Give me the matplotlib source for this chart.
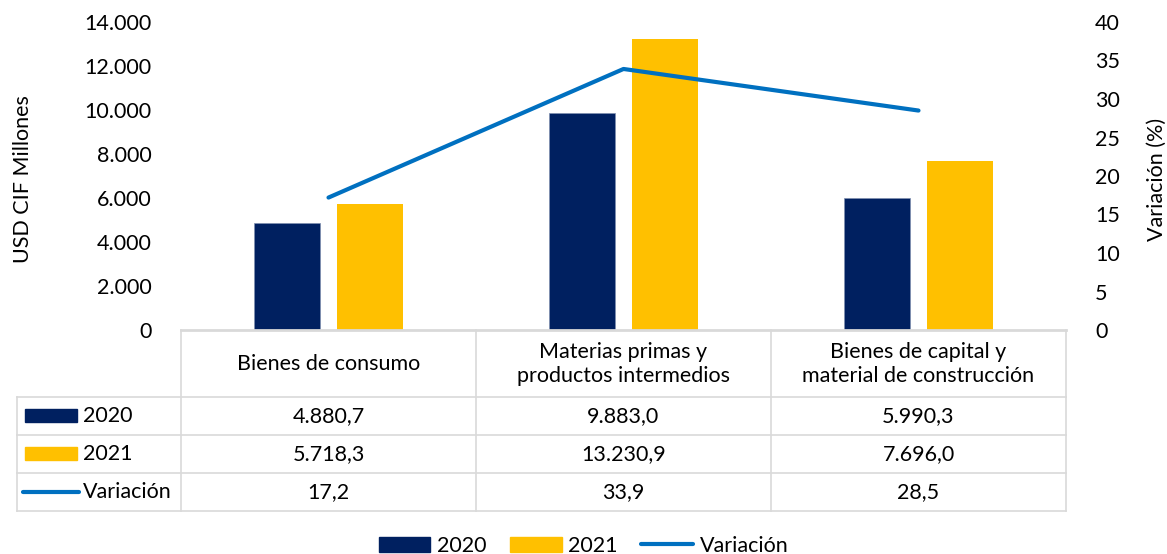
import matplotlib
matplotlib.use("Agg")
import matplotlib.pyplot as plt
from matplotlib.patches import Rectangle
from matplotlib.lines import Line2D
import numpy as np

plt.rcParams['font.family'] = ['Lato', 'DejaVu Sans']

categories = ["Bienes de consumo", "Materias primas y\nproductos intermedios",
              "Bienes de capital y\nmaterial de construcción"]
v2020 = [4880.7, 9883.0, 5990.3]
v2021 = [5718.3, 13230.9, 7696.0]
variacion = [17.2, 33.9, 28.5]
lbl2020 = ["4.880,7", "9.883,0", "5.990,3"]
lbl2021 = ["5.718,3", "13.230,9", "7.696,0"]
lblvar = ["17,2", "33,9", "28,5"]
left_ticks = [0, 2000, 4000, 6000, 8000, 10000, 12000, 14000]
left_ticklabels = ["0", "2.000", "4.000", "6.000", "8.000", "10.000", "12.000", "14.000"]
right_ticks = [0, 5, 10, 15, 20, 25, 30, 35, 40]

C20 = "#002060"
C21 = "#FFC000"
CV = "#0070C0"
GRID = "#D9D9D9"
FS = 15.5

W, H = 1167, 554
fig = plt.figure(figsize=(W / 100, H / 100), dpi=100)

def px(x0, y0, x1, y1):
    return [x0 / W, 1 - y1 / H, (x1 - x0) / W, (y1 - y0) / H]

ax = fig.add_axes(px(181, 22, 1066, 330))
x = np.arange(len(categories))
bw = 0.224
off = 0.142
ax.bar(x - off, v2020, width=bw, color=C20, edgecolor="#8090b0", linewidth=0.5)
ax.bar(x + off, v2021, width=bw, color=C21, edgecolor="none")
ax.set_xlim(-0.5, 2.5)
ax.set_ylim(0, 14000)
ax.set_yticks(left_ticks)
ax.set_yticklabels(left_ticklabels, fontsize=FS)
ax.set_xticks([])
for s in ax.spines.values():
    s.set_visible(False)
ax.tick_params(axis='y', length=0, pad=21)
ax.set_ylabel("USD CIF Millones", fontsize=FS)
ax.yaxis.set_label_coords(-0.167, 0.49)

ax2 = ax.twinx()
ax2.plot(x, variacion, color=CV, linewidth=3.0, solid_capstyle='round')
ax2.set_ylim(0, 40)
ax2.set_yticks(right_ticks)
ax2.tick_params(axis='y', length=0, pad=21, labelsize=FS)
for s in ax2.spines.values():
    s.set_visible(False)
ax2.set_ylabel("Variación (%)", fontsize=FS)
ax2.yaxis.set_label_coords(1.0915, 0.49)

# Data table
tax = fig.add_axes(px(181, 330, 1066, 511))
tax.set_xlim(-0.5, 2.5)
tax.set_ylim(181, 0)
tax.axis('off')
xl = -0.5 - 164 / 295.0
rows = [0, 67, 105, 143, 181]
lk = dict(color=GRID, linewidth=1.2, clip_on=False)
tax.plot([-0.5, 2.5], [0, 0], color=GRID, linewidth=2, clip_on=False)
for r in rows[1:]:
    tax.plot([xl, 2.5], [r, r], **lk)
for c in [-0.5, 0.5, 1.5, 2.5]:
    tax.plot([c, c], [0, 181], **lk)
tax.plot([xl, xl], [67, 181], **lk)

for i, cat in enumerate(categories):
    tax.text(i, 34, cat, ha='center', va='center', fontsize=FS, linespacing=1.2)
    tax.text(i, 86, lbl2020[i], ha='center', va='center', fontsize=FS)
    tax.text(i, 124, lbl2021[i], ha='center', va='center', fontsize=FS)
    tax.text(i, 162, lblvar[i], ha='center', va='center', fontsize=FS)

kx0 = xl + 8 / 295.0
kx1 = xl + 60 / 295.0
tax.add_patch(Rectangle((kx0, 79), kx1 - kx0, 13, color=C20, clip_on=False))
tax.add_patch(Rectangle((kx0, 117), kx1 - kx0, 13, color=C21, clip_on=False))
tax.plot([xl + 6 / 295.0, xl + 62 / 295.0], [162, 162], color=CV, linewidth=3.0,
         solid_capstyle='round', clip_on=False)
tx = xl + 66 / 295.0
tax.text(tx, 86, "2020", ha='left', va='center', fontsize=FS)
tax.text(tx, 124, "2021", ha='left', va='center', fontsize=FS)
tax.text(tx, 162, "Variación", ha='left', va='center', fontsize=FS)

# Bottom legend
handles = [Rectangle((0, 0), 1, 1, color=C20), Rectangle((0, 0), 1, 1, color=C21),
           Line2D([0], [0], color=CV, linewidth=3.0, solid_capstyle='round')]
fig.legend(handles, ["2020", "2021", "Variación"], loc='center',
           bbox_to_anchor=(0.5, 1 - 546 / H), ncol=3, frameon=False, fontsize=FS,
           handlelength=2.4, handletextpad=0.3, columnspacing=1.1)

fig.savefig("out.png", dpi=100)
